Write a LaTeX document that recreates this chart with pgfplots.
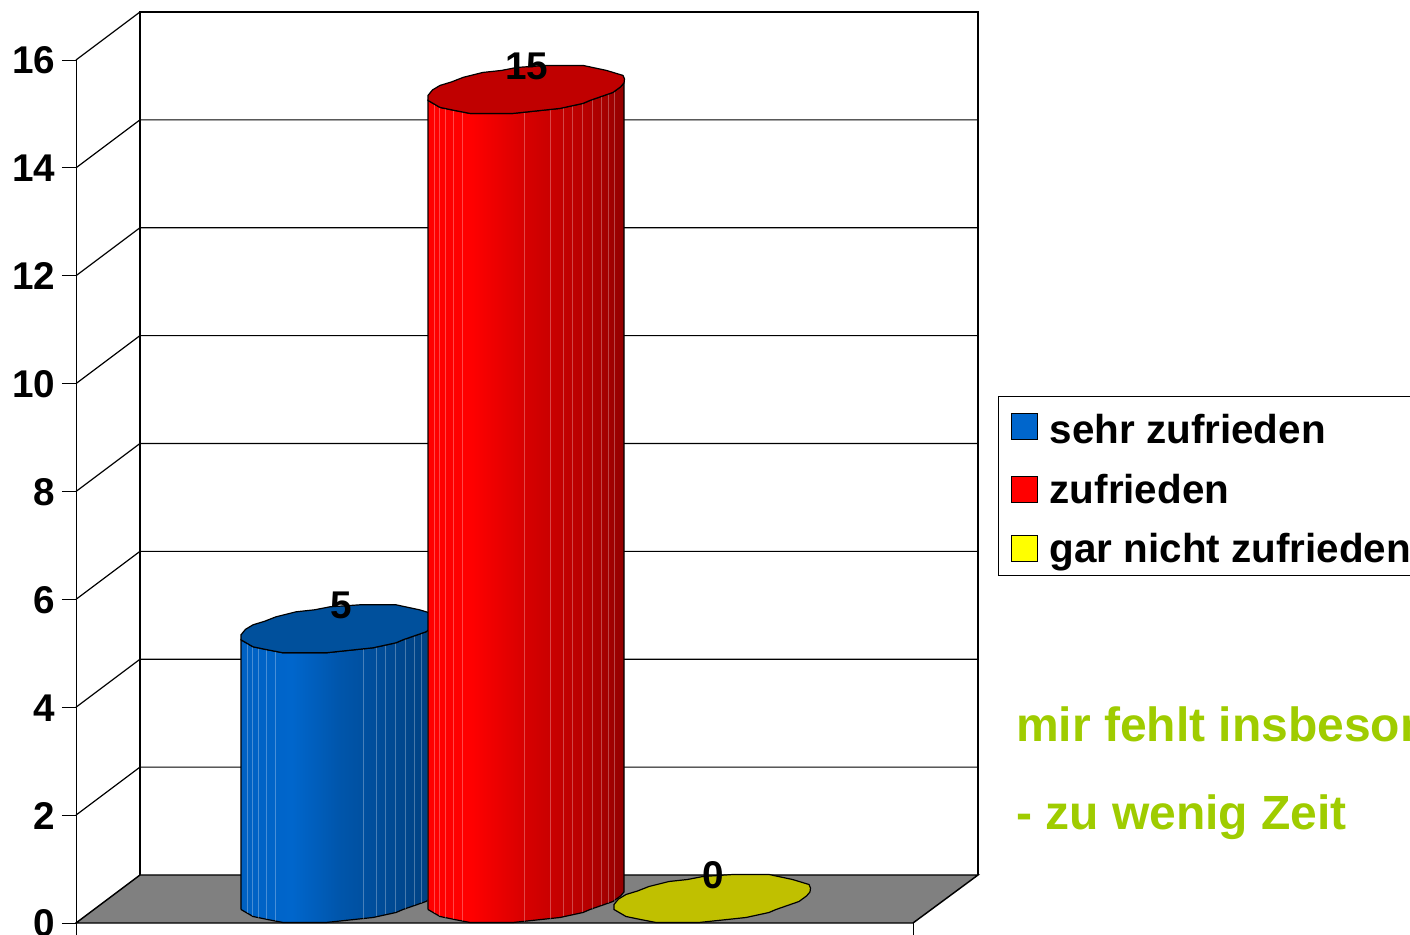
\documentclass[border=0pt]{standalone}
\usepackage{fontspec}
\setmainfont{Liberation Sans}
\usepackage{pgfplots}
\usepackage{pgfplotstable}
\pgfplotsset{compat=1.18}
\definecolor{legblue}{HTML}{0066CC}
\definecolor{legred}{HTML}{FF0000}
\definecolor{legyellow}{HTML}{FFFF00}
\definecolor{capblue}{HTML}{00509C}
\definecolor{capred}{HTML}{C00000}
\definecolor{capyellow}{HTML}{C0C000}
\definecolor{floorgrey}{HTML}{808080}
\definecolor{txtgreen}{HTML}{9FCC00}
\pgfdeclarehorizontalshading{blueCyl}{100bp}{color(0bp)=(legblue!95!black); color(25bp)=(legblue!95!black); color(38bp)=(legblue); color(50bp)=(legblue!84!black); color(75bp)=(legblue!62!black); color(100bp)=(legblue!62!black)}
\pgfdeclarehorizontalshading{redCyl}{100bp}{color(0bp)=(legred); color(25bp)=(legred); color(36bp)=(legred); color(50bp)=(legred!84!black); color(65bp)=(legred!72!black); color(75bp)=(legred!58!black); color(100bp)=(legred!58!black)}
% outline of the cap, pixel offsets from its centre
\pgfplotstableread[row sep=\\]{
dx dy\\
97.5 7\\ 98 11\\ 96.5 14.5\\ 80 19.5\\ 56.5 24.5\\ 20.5 24.5\\ -9.5 22.5\\ -25 19.5\\ -43.5 17.5\\ -63.5 12.5\\ -75 8\\ -86.5 4.5\\ -94 0\\ -98.5 -5.5\\
-98.5 -10.5\\ -86.5 -17.5\\ -72 -20.5\\ -56.5 -23.5\\ -13.5 -23.5\\ 10 -21\\ 33.5 -18.5\\ 56.5 -13.5\\ 63.5 -10.5\\ 86.5 -2.5\\ 94 3\\ 97.5 7\\
}\capoutline
% silhouette of the body: h=0 foot, h=1 head
\pgfplotstableread[row sep=\\]{
dx dy h\\
-98.5 -10.5 0\\ -86.5 -17.5 0\\ -72 -20.5 0\\ -56.5 -23.5 0\\ -13.5 -23.5 0\\ 10 -21 0\\ 33.5 -18.5 0\\ 56.5 -13.5 0\\ 63.5 -10.5 0\\ 86.5 -2.5 0\\ 94 3 0\\ 97.5 7 0\\
97.5 7 1\\ 94 3 1\\ 86.5 -2.5 1\\ 63.5 -10.5 1\\ 56.5 -13.5 1\\ 33.5 -18.5 1\\ 10 -21 1\\ -13.5 -23.5 1\\ -56.5 -23.5 1\\ -72 -20.5 1\\ -86.5 -17.5 1\\ -98.5 -10.5 1\\ -98.5 -10.5 0\\
}\bodyoutline
% facet seams
\pgfplotstableread[row sep=\\]{
dx dy h\\
-92 -14 0\\ -92 -14 1\\ nan nan nan\\
-87 -17 0\\ -87 -17 1\\ nan nan nan\\
-81 -19 0\\ -81 -19 1\\ nan nan nan\\
-73 -20.5 0\\ -73 -20.5 1\\ nan nan nan\\
-64 -22 0\\ -64 -22 1\\ nan nan nan\\
24 -20 0\\ 24 -20 1\\ nan nan nan\\
37 -17.5 0\\ 37 -17.5 1\\ nan nan nan\\
46 -15.5 0\\ 46 -15.5 1\\ nan nan nan\\
56 -13.5 0\\ 56 -13.5 1\\ nan nan nan\\
66 -10 0\\ 66 -10 1\\ nan nan nan\\
75 -6.5 0\\ 75 -6.5 1\\ nan nan nan\\
82 -4 0\\ 82 -4 1\\ nan nan nan\\
88 -2 0\\ 88 -2 1\\ nan nan nan\\
}\seams
% back wall grid
\pgfplotstableread[row sep=\\]{
x y\\
76 2\\ 140 2.89\\ 978 2.89\\ nan nan\\
76 4\\ 140 4.89\\ 978 4.89\\ nan nan\\
76 6\\ 140 6.89\\ 978 6.89\\ nan nan\\
76 8\\ 140 8.89\\ 978 8.89\\ nan nan\\
76 10\\ 140 10.89\\ 978 10.89\\ nan nan\\
76 12\\ 140 12.89\\ 978 12.89\\ nan nan\\
76 14\\ 140 14.89\\ 978 14.89\\ nan nan\\
76 16\\ 140 16.89\\ 978 16.89\\ nan nan\\
}\wallgrid
\newcommand{\cylinder}[3]{% centre x, value, colour stem
  \addplot[draw=black,line width=.9pt,shading=#3Cyl] table[x expr=\thisrow{dx}+#1,y expr=\thisrow{dy}/53.94+0.445+#2*\thisrow{h}]{\bodyoutline};
  \addplot[draw=white,opacity=.28,line width=.5pt,unbounded coords=jump] table[x expr=\thisrow{dx}+#1,y expr=\thisrow{dy}/53.94+0.445+#2*\thisrow{h}]{\seams};
  \addplot[draw=black,line width=.9pt,fill=cap#3] table[x expr=\thisrow{dx}+#1,y expr=\thisrow{dy}/53.94+0.445+#2]{\capoutline};
}
\newcommand{\bignum}{\bfseries\fontsize{29}{29}\selectfont}
\begin{document}
\begin{tikzpicture}
\useasboundingbox (0,0) rectangle (1057.5pt,701.25pt);
\clip (0,0) rectangle (1057.5pt,701.25pt);
\begin{axis}[
  at={(57pt,9pt)},anchor=south west,
  scale only axis,width=1000.5pt,height=647.25pt,
  xmin=76,xmax=1410,ymin=0,ymax=16,clip=false,
  axis x line=none,axis y line=left,axis line style={-,line width=.7pt},
  ytick={0,2,...,16},xtick=\empty,
  major tick length=10.5pt,tick align=outside,tick style={black,line width=.7pt},
  /pgf/number format/assume math mode=true,
  yticklabel style={font=\bignum,inner sep=0pt,xshift=-5pt,yshift=-.5pt},
  legend style={at={(axis cs:998,9.77)},anchor=north west,draw=black,line width=.9pt,
    font=\bfseries\fontsize{30.3}{30.3}\selectfont,inner xsep=9pt,inner ysep=6.5pt,
    row sep=17pt},
  legend cell align=left,
  legend image code/.code={\draw[#1,draw=black,line width=.7pt] (0pt,-9.75pt) rectangle (19.5pt,9.75pt);\path (26.5pt,0pt);},
]
\addplot[draw=none,fill=white,forget plot] coordinates {(140,0.89)(140,16.89)(978,16.89)(978,0.89)} -- cycle;
\addplot[black,line width=.9pt,unbounded coords=jump,forget plot] table[x=x,y=y]{\wallgrid};
\addplot[draw=black,line width=1pt,forget plot] coordinates {(140,0.89)(140,16.89)(978,16.89)(978,0.89)};
\addplot[draw=black,line width=1.1pt,fill=floorgrey,forget plot] coordinates {(76,0)(140,0.89)(978,0.89)(913,0)} -- cycle;
\addplot[black,line width=.7pt,forget plot] coordinates {(76,0)(76,-0.23)};
\addplot[black,line width=.7pt,forget plot] coordinates {(913,0)(913,-0.23)};
\pgfplotsset{every axis plot/.append style={forget plot}}
\cylinder{339.5}{5}{blue}
\cylinder{526.5}{15}{red}
\addplot[draw=white,opacity=.28,line width=.5pt] coordinates {(524.5,0.02)(524.5,15.02)};
\addplot[draw=black,line width=.9pt,fill=capyellow] table[x expr=\thisrow{dx}+712.5,y expr=\thisrow{dy}/53.94+0.445]{\capoutline};
\node[font=\bignum] at (axis cs:341,5.89) {5};
\node[font=\bignum] at (axis cs:527,15.89) {15};
\node[font=\bignum] at (axis cs:713,0.89) {0};
\node[anchor=base west,inner sep=0pt,text=txtgreen,font=\bfseries\fontsize{36}{36}\selectfont] at (axis cs:1016,3.37) {mir fehlt insbesondere};
\node[anchor=base west,inner sep=0pt,text=txtgreen,font=\bfseries\fontsize{36}{36}\selectfont] at (axis cs:1016,1.73) {- zu wenig Zeit};
\addlegendimage{fill=legblue}\addlegendentry{\rule{0pt}{27pt}sehr zufrieden}
\addlegendimage{fill=legred}\addlegendentry{zufrieden}
\addlegendimage{fill=legyellow}\addlegendentry{gar nicht zufrieden}
\end{axis}
\end{tikzpicture}
\end{document}
